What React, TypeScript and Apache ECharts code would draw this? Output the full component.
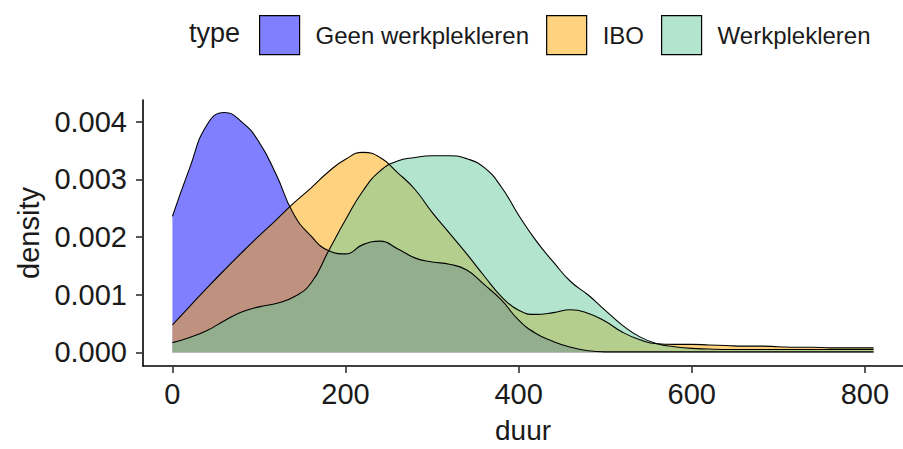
import React, { useEffect, useRef } from "react";
import * as echarts from "echarts";

// x grid (duur) at which densities were read
const duur = [
  0, 20, 40, 60, 80, 100, 120, 140, 160, 180, 200, 220, 240, 260, 280, 300, 320, 340, 360, 380,
  400, 420, 440, 460, 480, 500, 520, 540, 560, 580, 600, 620, 640, 660, 680, 700, 720, 740, 760,
  780, 800, 810,
];

const geenWerkplekleren = [
  0.00236, 0.0032, 0.00395, 0.00416, 0.004, 0.00365, 0.00308, 0.0024, 0.00202, 0.00177, 0.00171,
  0.00187, 0.00193, 0.0018, 0.00164, 0.00157, 0.00153, 0.00143, 0.00118, 0.00091, 0.00056,
  0.00033, 0.00019, 0.00009, 0.00003, 0.00001, 0.00001, 0.00001, 0.00001, 0.00001, 0.00001,
  0.00001, 0.00001, 0.00001, 0.00001, 0.00001, 0.00001, 0.00001, 0.00001, 0.00001, 0.00001,
  0.00001,
];

const ibo = [
  0.00048, 0.0008, 0.00112, 0.00143, 0.00173, 0.00202, 0.0023, 0.00259, 0.00285, 0.00313,
  0.00335, 0.00347, 0.00338, 0.00312, 0.00283, 0.00243, 0.00207, 0.00171, 0.00133, 0.00097,
  0.00073, 0.00066, 0.00069, 0.00074, 0.00068, 0.00054, 0.00035, 0.00022, 0.00015, 0.00014,
  0.00014, 0.00013, 0.00012, 0.00011, 0.00011, 0.0001, 0.00009, 0.00009, 0.00008, 0.00008,
  0.00008, 0.00008,
];

const werkplekleren = [
  0.00017, 0.00026, 0.00038, 0.00055, 0.0007, 0.00079, 0.00085, 0.00096, 0.0012, 0.00175,
  0.0023, 0.0028, 0.00315, 0.00332, 0.00338, 0.00341, 0.00341, 0.00336, 0.00321, 0.00287,
  0.00238, 0.00194, 0.00157, 0.00123, 0.001, 0.00073, 0.00047, 0.00027, 0.00015, 0.0001,
  0.00007, 0.00006, 0.00005, 0.00005, 0.00005, 0.00005, 0.00005, 0.00005, 0.00005, 0.00005,
  0.00005, 0.00005,
];

const typeNames = ["Geen werkplekleren", "IBO", "Werkplekleren"];
const xTicks = [0, 200, 400, 600, 800];
const yTicks = [0, 0.001, 0.002, 0.003, 0.004];

const fills = ["rgba(0,0,255,0.5)", "rgba(255,165,0,0.5)", "rgba(103,201,155,0.5)"];
const legendFills = ["#8080ff", "#ffd280", "#b3e4cd"];

const FONT = "'Liberation Sans', Arial, Helvetica, sans-serif";
const TEXT = "#1a1a1a";

export default function App() {
  const ref = useRef<HTMLDivElement>(null);

  useEffect(() => {
    if (!ref.current) return;
    const chart = echarts.init(ref.current, undefined, { renderer: "svg" });
    const valueSets = [geenWerkplekleren, ibo, werkplekleren];

    chart.setOption({
      animation: false,
      backgroundColor: "#ffffff",
      textStyle: { fontFamily: FONT },
      grid: { left: 143, top: 100, width: 774, height: 271, containLabel: false },
      graphic: [
        {
          type: "text",
          left: 189,
          top: 19,
          style: { text: "type", fontSize: 27, fontFamily: FONT, fill: TEXT },
        },
      ],
      legend: {
        left: 259,
        top: 15,
        padding: 0,
        itemWidth: 40,
        itemHeight: 39,
        itemGap: 17,
        selectedMode: false,
        textStyle: { fontSize: 24, color: TEXT, fontFamily: FONT, padding: [0, 0, 0, 11] },
        data: typeNames.map((n, i) => ({
          name: n,
          icon: "rect",
          itemStyle: { color: legendFills[i], borderColor: "#000", borderWidth: 1.2 },
        })),
      },
      xAxis: {
        type: "value",
        min: -34,
        max: 844,
        name: "duur",
        nameLocation: "middle",
        nameGap: 50,
        nameTextStyle: { fontSize: 28, color: TEXT, fontFamily: FONT },
        axisLine: { show: true, onZero: false, lineStyle: { color: "#000", width: 1.6 } },
        axisTick: {
          show: true,
          length: 7,
          customValues: xTicks,
          lineStyle: { color: "#333", width: 1.6 },
        },
        axisLabel: {
          customValues: xTicks,
          fontSize: 29,
          color: TEXT,
          margin: 13,
          fontFamily: FONT,
        },
        splitLine: { show: false },
      },
      yAxis: {
        type: "value",
        min: -0.000235,
        max: 0.004378,
        name: "density",
        nameLocation: "middle",
        nameRotate: 90,
        nameGap: 100,
        nameTextStyle: { fontSize: 29, color: TEXT, fontFamily: FONT },
        axisLine: { show: true, onZero: false, lineStyle: { color: "#000", width: 1.6 } },
        axisTick: {
          show: true,
          length: 7,
          customValues: yTicks,
          lineStyle: { color: "#333", width: 1.6 },
        },
        axisLabel: {
          customValues: yTicks,
          fontSize: 29,
          color: TEXT,
          margin: 16,
          fontFamily: FONT,
          formatter: (v: number) => v.toFixed(3),
        },
        splitLine: { show: false },
      },
      series: typeNames.map((n, i) => ({
        name: n,
        type: "line",
        smooth: 0.5,
        symbol: "none",
        showSymbol: false,
        itemStyle: { color: legendFills[i] },
        lineStyle: { color: "#000", width: 1.1 },
        areaStyle: { color: fills[i], opacity: 1, origin: 0 },
        data: duur.map((x, k) => [x, valueSets[i][k]]),
      })),
    });

    return () => chart.dispose();
  }, []);

  return <div ref={ref} style={{ width: 903, height: 449, position: "absolute", left: 0, top: 0 }} />;
}
